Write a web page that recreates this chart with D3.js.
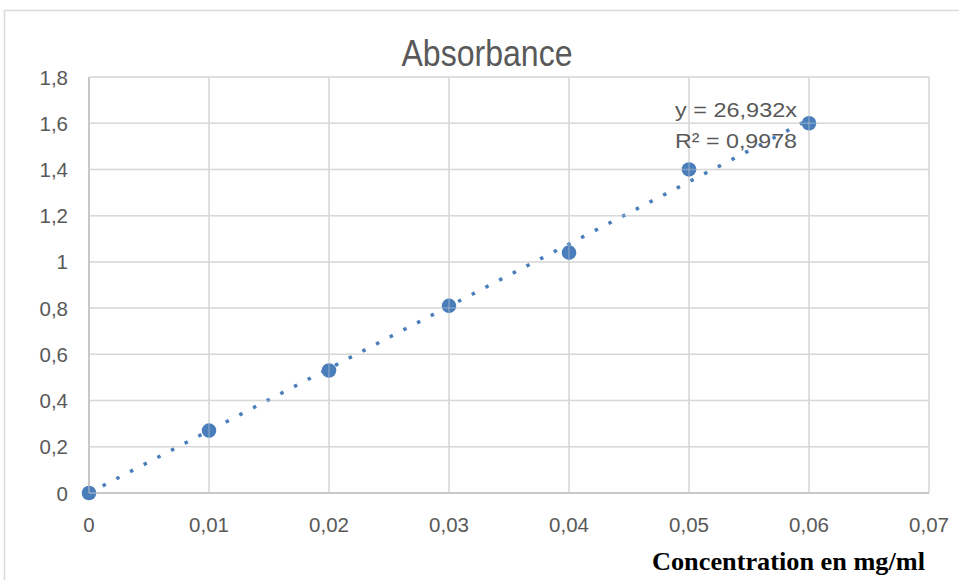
<!DOCTYPE html>
<html><head><meta charset="utf-8">
<script src="https://cdn.jsdelivr.net/npm/d3@7"></script>
<style>body{margin:0;background:#fff}svg{display:block}</style>
</head><body>
<script>
const concentration = [0, 0.01, 0.02, 0.03, 0.04, 0.05, 0.06];
const absorbance = [0, 0.27, 0.53, 0.81, 1.04, 1.40, 1.60];
const slope = 26.932;
const r2Label = "R² = 0,9978";
const eqLabel = "y = 26,932x";
const xTicks = [0, 0.01, 0.02, 0.03, 0.04, 0.05, 0.06, 0.07];
const yTicks = [0, 0.2, 0.4, 0.6, 0.8, 1, 1.2, 1.4, 1.6, 1.8];

const W = 959, H = 580;
const m = {l: 89, r: 30, t: 77, b: 87};
const svg = d3.select("body").append("svg").attr("width", W).attr("height", H);
const fmt = v => String(+v.toFixed(2)).replace(".", ",");
const fontN = "'Liberation Sans',Arial,sans-serif";

// outer frame
svg.append("path").attr("d", `M4.5,${H} V10.5 H${W}`).attr("fill","none").attr("stroke","#d9d9d9").attr("stroke-width",1.5);

const x = d3.scaleLinear().domain([0, 0.07]).range([m.l, W - m.r]);
const y = d3.scaleLinear().domain([0, 1.8]).range([H - m.b, m.t]);

function grid(g, op) {
  g.append("g").selectAll("line").data(xTicks).join("line")
    .attr("x1", d => x(d)).attr("x2", d => x(d)).attr("y1", y(0)).attr("y2", y(1.8))
    .attr("stroke", "#d9d9d9").attr("stroke-width", 1.5).attr("opacity", op);
  g.append("g").selectAll("line").data(yTicks).join("line")
    .attr("x1", x(0)).attr("x2", x(0.07)).attr("y1", d => y(d)).attr("y2", d => y(d))
    .attr("stroke", "#d9d9d9").attr("stroke-width", 1.5).attr("opacity", op);
  g.append("line").attr("x1", x(0)).attr("x2", x(0.07)).attr("y1", y(0)).attr("y2", y(0)).attr("stroke","#bfbfbf").attr("stroke-width",1.5).attr("opacity", op);
  g.append("line").attr("x1", x(0)).attr("x2", x(0)).attr("y1", y(0)).attr("y2", y(1.8)).attr("stroke","#bfbfbf").attr("stroke-width",1.5).attr("opacity", op);
}
grid(svg.append("g"), 1);

// tick labels
svg.append("g").selectAll("text").data(yTicks).join("text")
  .attr("x", 68).attr("y", d => y(d) + 7.5).attr("text-anchor", "end")
  .attr("font-family", fontN).attr("font-size", 20.5).attr("fill", "#595959").text(fmt);
svg.append("g").selectAll("text").data(xTicks).join("text")
  .attr("x", d => x(d)).attr("y", 531.5).attr("text-anchor", "middle")
  .attr("font-family", fontN).attr("font-size", 20.5).attr("fill", "#595959").text(fmt);

// title
svg.append("text").attr("x", 401.5).attr("y", 65.5)
  .attr("textLength", 171).attr("lengthAdjust", "spacingAndGlyphs")
  .attr("font-family", fontN).attr("font-size", 36).attr("fill","#595959").text("Absorbance");

// axis title
svg.append("text").attr("x", 652).attr("y", 570)
  .attr("textLength", 273).attr("lengthAdjust", "spacingAndGlyphs")
  .attr("font-family","'Liberation Serif','Times New Roman',serif").attr("font-weight","bold")
  .attr("font-size", 26).attr("fill","#000").text("Concentration en mg/ml");

// trendline
const x0 = concentration[0], x1 = concentration[concentration.length - 1];
svg.append("line").attr("x1", x(x0)).attr("y1", y(slope * x0)).attr("x2", x(x1)).attr("y2", y(slope * x1))
  .attr("stroke", "#4a7ebb").attr("stroke-width", 3.5).attr("stroke-dasharray", "3.5 11.9");

// points
svg.append("g").selectAll("circle").data(concentration).join("circle")
  .attr("cx", d => x(d)).attr("cy", (d, i) => y(absorbance[i])).attr("r", 7.3)
  .attr("fill", "#4a7ebb");

// grid faintly visible over the markers
grid(svg.append("g"), 0.35);

// equation
svg.append("text").attr("x", 675).attr("y", 116.5)
  .attr("textLength", 122).attr("lengthAdjust", "spacingAndGlyphs")
  .attr("font-family", fontN).attr("font-size", 20.5).attr("fill","#595959").text(eqLabel);
svg.append("text").attr("x", 675).attr("y", 148)
  .attr("textLength", 122).attr("lengthAdjust", "spacingAndGlyphs")
  .attr("font-family", fontN).attr("font-size", 20.5).attr("fill","#595959").text(r2Label);
</script>
</body></html>
